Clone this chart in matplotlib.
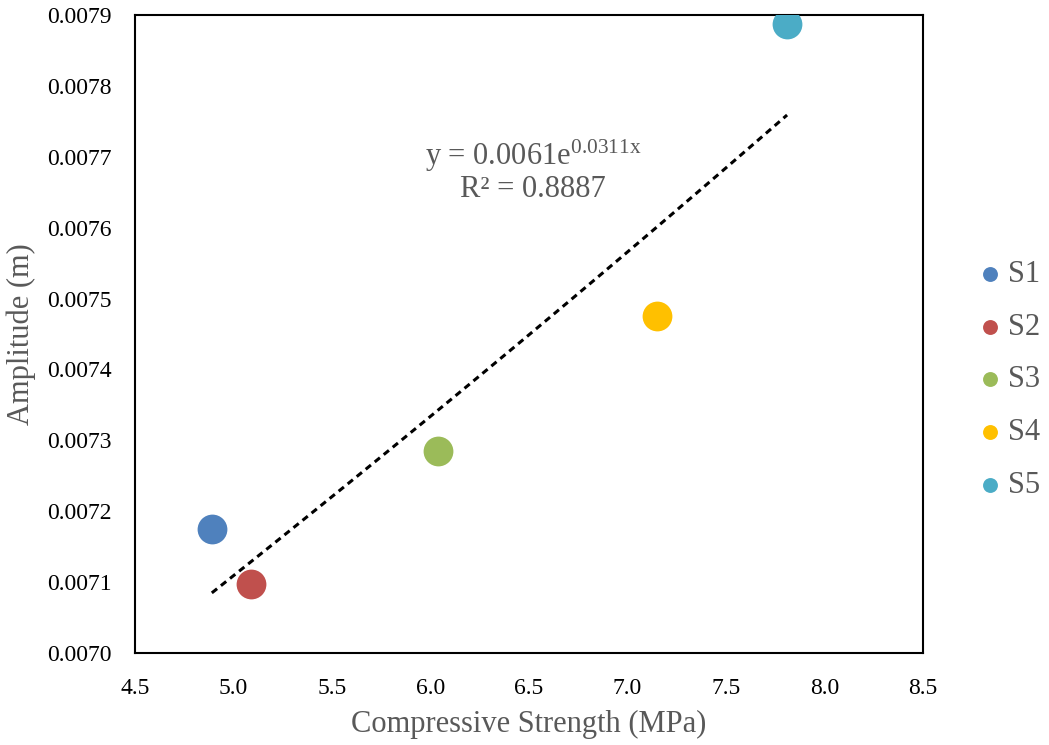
import matplotlib
matplotlib.use("Agg")
import matplotlib.pyplot as plt
import numpy as np

plt.rcParams['font.family'] = ['Liberation Serif', 'DejaVu Serif']
plt.rcParams['mathtext.fontset'] = 'custom'
plt.rcParams['mathtext.rm'] = 'Liberation Serif'
plt.rcParams['mathtext.it'] = 'Liberation Serif'

# data
labels = ["S1", "S2", "S3", "S4", "S5"]
strength = [4.89, 5.09, 6.04, 7.15, 7.81]
amplitude = [0.007175, 0.007098, 0.007285, 0.007475, 0.007887]
colors = ["#4F81BD", "#C0504D", "#9BBB59", "#FFC000", "#4BACC6"]
eq_text = "y = 0.0061e$^{0.0311x}$"
r2_text = "R² = 0.8887"

fig = plt.figure(figsize=(10.49, 7.45), dpi=100)
ax = fig.add_axes([135 / 1049, 1 - 653 / 745, 788 / 1049, 638 / 745])

for lab, x, y, c in zip(labels, strength, amplitude, colors):
    ax.scatter(x, y, s=460, color=c, label=lab, zorder=3, linewidths=0)

# exponential trendline fitted to the points
xs = np.array(strength)
b, lna = np.polyfit(xs, np.log(amplitude), 1)
xt = np.linspace(xs.min(), xs.max(), 100)
ax.plot(xt, np.exp(lna) * np.exp(b * xt), color="black", lw=2.2,
        dashes=(2.2, 1.6), zorder=2)

ax.text(0.505, 0.808, eq_text + "\n" + r2_text, transform=ax.transAxes,
        ha="center", va="top", fontsize=22, color="#595959",
        linespacing=1.05)

ax.set_xlim(4.5, 8.5)
ax.set_ylim(0.0070, 0.0079)
ax.set_xticks(np.arange(4.5, 8.51, 0.5))
ax.set_yticks(np.arange(0.0070, 0.00791, 0.0001))
ax.xaxis.set_major_formatter(plt.FormatStrFormatter("%.1f"))
ax.yaxis.set_major_formatter(plt.FormatStrFormatter("%.4f"))
ax.tick_params(length=0, labelsize=17, colors="black")
ax.tick_params(axis="x", pad=18)
ax.tick_params(axis="y", pad=17)
for s in ax.spines.values():
    s.set_linewidth(1.5)
    s.set_color("black")

ax.set_xlabel("Compressive Strength (MPa)", fontsize=22, color="#595959",
              labelpad=8)
ax.set_ylabel("Amplitude (m)", fontsize=22, color="#595959", labelpad=8)

leg = fig.legend(loc="center left", bbox_to_anchor=(0.9, 0.49),
                 frameon=False, fontsize=22, markerscale=0.5,
                 handletextpad=0.0, labelspacing=0.78, handlelength=1.2)
for t in leg.get_texts():
    t.set_color("#595959")

fig.savefig("out.png", dpi=100)
